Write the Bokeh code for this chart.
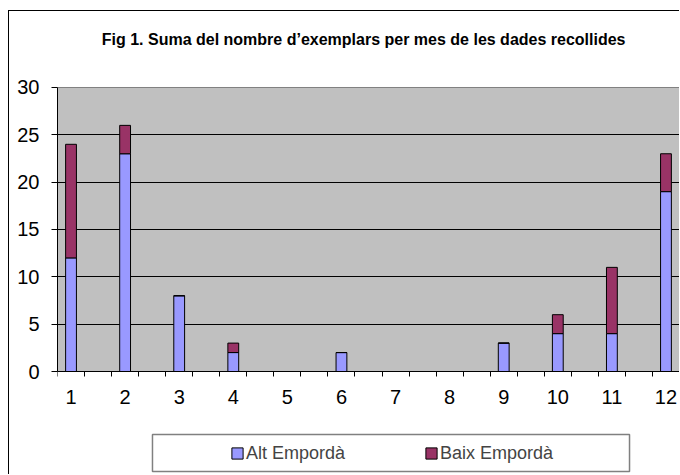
from bokeh.plotting import figure
from bokeh.models import (ColumnDataSource, FixedTicker, Range1d, Legend, LegendItem,
                          BoxAnnotation, Label)
from bokeh.embed import file_html
from bokeh.resources import INLINE

# ---- data ----
months = [1, 2, 3, 4, 5, 6, 7, 8, 9, 10, 11, 12]
alt_emporda = [12, 23, 8, 2, 0, 2, 0, 0, 3, 4, 4, 19]
baix_emporda = [12, 3, 0, 1, 0, 0, 0, 0, 0, 2, 7, 4]
series_names = ["Alt Empordà", "Baix Empordà"]
y_ticks = [0, 5, 10, 15, 20, 25, 30]
x_labels = [str(m) for m in months]
title_text = "Fig 1. Suma del nombre d\u2019exemplars per mes de les dades recollides"

FONT = "Liberation Sans"

# frame covers title, plot area and legend; the plot area is y in [0, 30]
p = figure(width=671, height=464,
           x_range=Range1d(0.75, 12.25), y_range=Range1d(-10.88, 37.077),
           output_backend="svg", toolbar_location=None,
           min_border_left=48, min_border_right=1,
           min_border_top=9, min_border_bottom=1)
p.styles = {"border-left": "1px solid black", "border-top": "1px solid black",
            "margin-left": "8px", "margin-top": "10px"}

p.background_fill_color = "white"
p.border_fill_color = "white"
p.outline_line_color = None

# plot area background
p.add_layout(BoxAnnotation(left=0.75, right=12.25, bottom=0, top=30,
                           fill_color="#C0C0C0", fill_alpha=1.0,
                           line_color="#808080", line_alpha=1.0, line_width=1,
                           level="image"))

source = ColumnDataSource(dict(x=months, alt=alt_emporda, baix=baix_emporda))
rs = p.vbar_stack(["alt", "baix"], x="x", width=0.2, source=source,
                  fill_color=["#9999FF", "#993366"], line_color="black", line_width=1)

# axes
minor_x = [0.75 + 0.5 * i for i in range(24)]
p.xaxis.fixed_location = 0
p.xaxis.ticker = FixedTicker(ticks=months, minor_ticks=minor_x)
p.xaxis.major_label_overrides = {m: lab for m, lab in zip(months, x_labels)}
p.xaxis.major_tick_line_color = None
p.xaxis.minor_tick_line_color = "black"
p.xaxis.minor_tick_in = 0
p.xaxis.minor_tick_out = 5
p.xaxis.major_label_standoff = 12

p.yaxis.bounds = (0, 30)
p.yaxis.ticker = FixedTicker(ticks=y_ticks, minor_ticks=[])
p.yaxis.major_tick_in = 0
p.yaxis.major_tick_out = 6
p.yaxis.major_tick_line_color = "black"
p.yaxis.minor_tick_line_color = None
p.yaxis.major_label_standoff = 12

for ax in (p.xaxis, p.yaxis):
    ax.axis_line_color = "black"
    ax.major_label_text_font = FONT
    ax.major_label_text_font_size = "20px"
    ax.major_label_text_color = "black"

p.xgrid.visible = False
p.ygrid.ticker = FixedTicker(ticks=y_ticks[1:-1])
p.ygrid.grid_line_color = "black"
p.ygrid.grid_line_width = 1

# title
p.add_layout(Label(x=6.41, y=35.07, text=title_text, text_align="center",
                   text_baseline="middle", text_font=FONT, text_font_style="bold",
                   text_font_size="16px", text_color="black"))

# legend box
p.add_layout(BoxAnnotation(left=2.506, right=11.326, bottom=-10.563, top=-6.655,
                           fill_color="white", fill_alpha=1.0,
                           line_color="#808080", line_width=1.5, line_alpha=1.0))

legend = Legend(items=[LegendItem(label=series_names[0], renderers=[rs[0]]),
                       LegendItem(label=series_names[1], renderers=[rs[1]])],
                location=(173, 10.5), orientation="horizontal",
                padding=0, margin=0, spacing=79,
                glyph_width=14, glyph_height=14, label_standoff=2,
                label_height=14,
                label_text_font=FONT, label_text_font_size="18px",
                border_line_color=None, background_fill_alpha=0)
p.add_layout(legend)

open("out.html", "w").write(file_html(p, INLINE))
